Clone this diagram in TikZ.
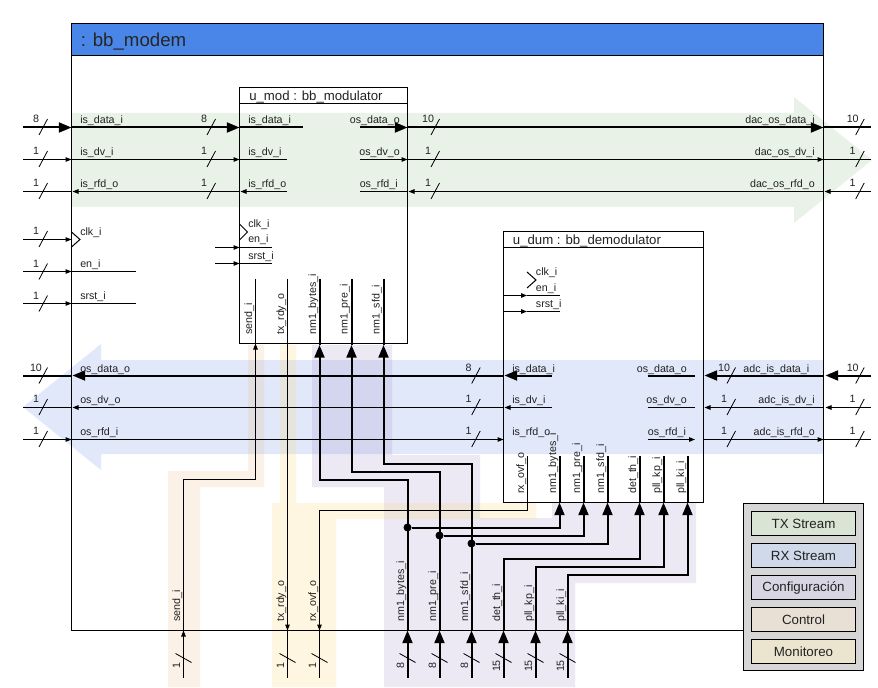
\documentclass[tikz,border=0pt]{standalone}
\usepackage{fontspec}
\setmainfont{Liberation Sans}
\usetikzlibrary{arrows.meta}
\definecolor{txc}{RGB}{145,190,130}
\definecolor{rxc}{RGB}{105,140,225}
\definecolor{cfc}{RGB}{160,145,200}
\definecolor{ctc}{RGB}{235,185,130}
\definecolor{moc}{RGB}{255,210,110}
\definecolor{txt}{RGB}{34,34,34}
\def\px{0.75pt}
\tikzset{
  band/.style={opacity=0.2},
  wire/.style={line width=0.75pt,draw=black},
  bus/.style={line width=1.5pt,draw=black},
  toA/.style={wire,-{Triangle[length=4.5pt,width=3.4pt]}},
  toB/.style={bus,-{Triangle[length=9.5pt,width=7.5pt]}},
  slashmark/.style={line width=0.6pt},
  lab/.style={inner sep=0,font=\fontsize{8}{9}\selectfont,text=txt},
  wlab/.style={lab,anchor=base west},
  elab/.style={lab,anchor=base east},
  vlab/.style={lab,rotate=90,anchor=base west},
  num/.style={lab,anchor=base},
  vnum/.style={lab,rotate=90,anchor=base},
  blockbox/.style={draw=black,line width=0.75pt,anchor=north west,inner sep=0,outer sep=0},
  legendbox/.style={draw=black,line width=0.75pt,minimum width=104*\px,minimum height=24*\px,inner sep=0,outer sep=0,text=txt,font=\fontsize{10}{12}\selectfont},
  junction/.style={circle,fill=black,inner sep=0,minimum size=6pt},
}
\begin{document}
\begin{tikzpicture}[x=0.75pt,y=-0.75pt]
\useasboundingbox (0,0) rectangle (878,688);
\fill[white] (0,0) rectangle (878,688);
% highlight bands
\fill[band,txc] (72,113) -- (794,113) -- (794,97) -- (872,160) -- (794,223) -- (794,207) -- (72,207) -- cycle;
\fill[band,rxc] (823,360) -- (101,360) -- (101,344) -- (23,407) -- (101,470) -- (101,454) -- (823,454) -- cycle;
\fill[band,cfc] (312,345) -- (392,345) -- (392,455) -- (480,455) -- (480,518) -- (552,518) -- (552,503) -- (696,503) -- (696,583) -- (575,583) -- (575,687) -- (384,687) -- (384,487) -- (312,487) -- cycle;
\fill[band,ctc] (248,345) -- (264,345) -- (264,487) -- (200,487) -- (200,687) -- (168,687) -- (168,471) -- (248,471) -- cycle;
\fill[band,moc] (280,345) -- (296,345) -- (296,503) -- (536,503) -- (536,519) -- (336,519) -- (336,687) -- (272,687) -- (272,503) -- (280,503) -- cycle;
% blocks
\fill[fill={rgb,255:red,74;green,134;blue,232}] (71.5,23.5) rectangle (823.5,55.5);
\node[blockbox,minimum width=752*\px,minimum height=607*\px] (modem) at (71.5,23.5) {};
\draw[line width=0.75pt] (71.5,55.5) -- (823.5,55.5);
\node[lab,anchor=base west,font=\fontsize{14}{16}\selectfont,text=black!85] (modemT) at (80.5,46.7) {: bb\_modem};
\node[blockbox,minimum width=168*\px,minimum height=256*\px] (umod) at (239.5,87.5) {};
\draw[line width=0.75pt] (239.5,103.5) -- (407.5,103.5);
\node[lab,anchor=base west,font=\fontsize{9.9}{12}\selectfont] (umodT) at (249,100.7) {u\_mod : bb\_modulator};
\node[blockbox,minimum width=200*\px,minimum height=271*\px] (udum) at (503.5,231.5) {};
\draw[line width=0.75pt] (503.5,247.5) -- (703.5,247.5);
\node[lab,anchor=base west,font=\fontsize{9.9}{12}\selectfont] (udumT) at (512.7,244.3) {u\_dum : bb\_demodulator};
% clock triangles
\draw[wire] (71.5,232) -- (80,239.5) -- (71.5,247);
\draw[wire] (239.5,224) -- (247.5,232) -- (239.5,240);
\draw[wire] (527,272) -- (536,280) -- (527,288);
% port coordinates
\foreach \n/\y in {a/127.5,b/159.5,c/191.5}{
  \coordinate (\n L) at (23,\y); \coordinate (\n B) at (71.5,\y);
  \coordinate (\n M) at (239.5,\y); \coordinate (\n O) at (360,\y);
  \coordinate (\n Q) at (407.5,\y); \coordinate (\n R) at (823.5,\y);
  \coordinate (\n X) at (871,\y);}
\coordinate (aI) at (303,127.5); \coordinate (bI) at (287,159.5); \coordinate (cI) at (287,191.5);
\foreach \n/\y in {d/375.5,e/407.5,f/439.5}{
  \coordinate (\n L) at (23,\y); \coordinate (\n B) at (71.5,\y);
  \coordinate (\n N) at (503.5,\y); \coordinate (\n I) at (551.5,\y);
  \coordinate (\n O) at (647.7,\y); \coordinate (\n E) at (695,\y);
  \coordinate (\n Q) at (703.5,\y); \coordinate (\n R) at (823.5,\y);
  \coordinate (\n X) at (871,\y);}
\foreach \n/\y in {g/239.5,h/271.5,i/303.5}{
  \coordinate (\n L) at (23,\y); \coordinate (\n B) at (71.5,\y); \coordinate (\n E) at (135.5,\y);}
\foreach \n/\y in {j/247.5,k/263.5}{
  \coordinate (\n S) at (215,\y); \coordinate (\n M) at (239.5,\y); \coordinate (\n E) at (271.5,\y);}
\foreach \n/\y in {l/295.5,m/311.5}{
  \coordinate (\n M) at (503.5,\y); \coordinate (\n A) at (527,\y); \coordinate (\n E) at (560,\y);}
% horizontal connectors
\draw[toB] (aL) -- (aB); \draw[toB] (aB) -- (aM); \draw[bus] (aM) -- (aI);
\draw[toB] (aO) -- (aQ); \draw[toB] (aQ) -- (aR); \draw[bus] (aR) -- (aX);
\draw[toA] (bL) -- (bB); \draw[toA] (bB) -- (bM); \draw[wire] (bM) -- (bI);
\draw[toA] (bO) -- (bQ); \draw[toA] (bQ) -- (bR); \draw[wire] (bR) -- (bX);
\draw[wire] (cL) -- (cB); \draw[toA,shorten >=0.75pt] (cM) -- (cB); \draw[toA,shorten >=0.75pt] (cI) -- (cM);
\draw[wire] (cO) -- (cQ); \draw[toA,shorten >=0.75pt] (cR) -- (cQ); \draw[toA,shorten >=0.75pt] (cX) -- (cR);
\draw[bus] (dL) -- (dB); \draw[toB,shorten >=0.75pt] (dN) -- (dB); \draw[toB,shorten >=0.75pt] (dI) -- (dN);
\draw[bus] (dO) -- (dE); \draw[toB,shorten >=0.75pt] (dR) -- (dQ); \draw[toB,shorten >=1.5pt] (dX) -- (dR);
\draw[wire] (eL) -- (eB); \draw[toA,shorten >=0.75pt] (eN) -- (eB); \draw[toA,shorten >=0.75pt] (eI) -- (eN);
\draw[wire] (eO) -- (eE); \draw[toA,shorten >=0.75pt] (eR) -- (eQ); \draw[toA,shorten >=1.5pt] (eX) -- (eR);
\draw[toA] (fL) -- (fB); \draw[toA] (fB) -- (fN);
\draw[toA] (fO) -- (fE); \draw[toA] (fQ) -- (fR); \draw[wire] (fR) -- (fX);
\foreach \n in {g,h,i}{\draw[toA] (\n L) -- (\n B);}
\foreach \n in {h,i}{\draw[wire] (\n B) -- (\n E);}
\foreach \n in {j,k}{\draw[toA] (\n S) -- (\n M); \draw[wire] (\n M) -- (\n E);}
\foreach \n in {l,m}{\draw[toA] (\n M) -- (\n A); \draw[wire] (\n A) -- (\n E);}
% vertical routes
\foreach \n/\x in {sd/183.5,tr/287.5,ro/319.5,nb/407.5,np/439.5,ns/471.5,dt/503.5,kp/535.5,ki/567.5}{
  \coordinate (\n B) at (\x,678); \coordinate (\n C) at (\x,630.5);}
\coordinate (mS) at (255.5,343.5); \coordinate (mSt) at (255.5,279);
\coordinate (mT) at (287.5,343.5); \coordinate (mTt) at (287.5,279);
\foreach \n/\x in {mB/319.5,mP/351.5,mF/383.5}{\coordinate (\n) at (\x,345); \coordinate (\n t) at (\x,279);}
\foreach \n/\x in {uR/527.5,uB/559.5,uP/583.5,uF/607.5,uD/639.5,uK/663.5,uL/687.5}{\coordinate (\n) at (\x,502.5); \coordinate (\n t) at (\x,456);}
% send
\draw[toA] (sdB) -- (sdC);
\draw[toA] (sdC) |- (255.5,479.5) -- (mS);
\draw[wire] (mS) -- (mSt);
% tx_rdy
\draw[wire] (mT) -- (mTt);
\draw[toA] (mT) -- (trC); \draw[wire] (trC) -- (trB);
% rx_ovf
\draw[wire] (uRt) -- (uR);
\draw[toA] (uR) |- (319.5,510.5) -- (roC); \draw[wire] (roC) -- (roB);
% configuration buses
\foreach \n in {nb,np,ns,dt,kp,ki}{\draw[toB] (\n B) -- (\n C);}
\draw[toB] (nbC) |- (319.5,479.5) -- (mB);
\draw[toB] (npC) |- (351.5,471.5) -- (mP);
\draw[toB] (nsC) |- (383.5,463.5) -- (mF);
\foreach \n in {mB,mP,mF}{\draw[bus] (\n) -- (\n t);}
\node[junction] (j1) at (407.5,527.5) {};
\node[junction] (j2) at (439.5,535.5) {};
\node[junction] (j3) at (471.5,543.5) {};
\draw[toB] (j1) -| (uB);
\draw[toB] (j2) -| (uP);
\draw[toB] (j3) -| (uF);
\draw[toB] (dtC) |- (639.5,558.5) -- (uD);
\draw[toB] (kpC) |- (663.5,566.5) -- (uK);
\draw[toB] (kiC) |- (687.5,574.5) -- (uL);
\foreach \n in {uB,uP,uF,uD,uK,uL}{\draw[bus] (\n) -- (\n t);}
% bus-width marks, horizontal runs
\foreach \x/\y/\t [count=\i] in {39/127/8,39/159/1,39/191/1,39/239/1,39/271.5/1,39/303.5/1,39/375.5/10,39/407/1,39/439/1,
  207/127/8,207/159/1,207/191/1,431/127/10,431/159/1,431/191/1,
  855.7/127/10,855.7/159/1,855.7/191/1,855.7/375.5/10,855.7/407/1,855.7/439/1,
  471.7/375.5/8,471.7/407/1,471.7/439/1,727/375.5/10,727/407/1,727/439/1}{
  \draw[slashmark] (\x,\y+8) -- (\x+8.5,\y-8);
  \node[num] (wh\i) at (\x-3,\y-4.2) {\t};}
% bus-width marks, vertical runs
\foreach \x/\t [count=\i] in {183.5/1,287.5/1,319.5/1,407.5/8,439.5/8,471.5/8,503.5/15,535.5/15,567.5/15}{
  \draw[slashmark] (\x-8,653.5) -- (\x+8,662.5);
  \node[vnum] (wv\i) at (\x-3.5,666) {\t};}
% horizontal labels
\foreach \t/\x/\y [count=\i] in {is\_data\_i/80/123.5,is\_dv\_i/80/155.5,is\_rfd\_o/80/187.5,clk\_i/80/235,en\_i/80/267.5,srst\_i/80/299.5,
  os\_data\_o/80/372,os\_dv\_o/80/403.5,os\_rfd\_i/80/435.5,
  is\_data\_i/248/123.5,is\_dv\_i/248/155.5,is\_rfd\_o/248/187.5,clk\_i/248/227,en\_i/248/243,srst\_i/248/259,os\_rfd\_i/359.5/187.5,
  clk\_i/535.7/275,en\_i/535.7/291,srst\_i/535.7/307,
  is\_data\_i/512/372,is\_dv\_i/512/403.5,is\_rfd\_o/512/435.5,os\_rfd\_i/647.7/435.5}{
  \node[wlab] (lw\i) at (\x,\y) {\t};}
\foreach \t/\x/\y [count=\i] in {os\_data\_o/400/123.5,os\_dv\_o/400/155.5,
  dac\_os\_data\_i/815/123.5,dac\_os\_dv\_i/815/155.5,dac\_os\_rfd\_o/815/187.5,
  os\_data\_o/687/372,os\_dv\_o/687/403.5,
  adc\_is\_data\_i/809.5/372,adc\_is\_dv\_i/815/403.5,adc\_is\_rfd\_o/815/435.5}{
  \node[elab] (le\i) at (\x,\y) {\t};}
% rotated labels
\foreach \t/\x/\y [count=\i] in {send\_i/252.2/335,tx\_rdy\_o/284/335,nm1\_bytes\_i/316/335,nm1\_pre\_i/347.5/335,nm1\_sfd\_i/379.5/335,
  rx\_ovf\_o/524/494,nm1\_bytes\_i/556.2/494,nm1\_pre\_i/580/494,nm1\_sfd\_i/604/494,det\_th\_i/636/494,pll\_kp\_i/660/494,pll\_ki\_i/684/494,
  send\_i/180/622,tx\_rdy\_o/284/622,rx\_ovf\_o/316/622,nm1\_bytes\_i/404.2/622,nm1\_pre\_i/436/622,nm1\_sfd\_i/468/622,det\_th\_i/500/622,pll\_kp\_i/532/622,pll\_ki\_i/564/622}{
  \node[vlab] (lv\i) at (\x,\y) {\t};}
% legend
\node[draw=black,line width=0.75pt,fill={rgb,255:red,214;green,214;blue,214},anchor=north west,outer sep=0,minimum width=120*\px,minimum height=167*\px,inner sep=0] (legend) at (743.5,503.5) {};
\node[legendbox,fill={rgb,255:red,217;green,228;blue,213}] (lg1) at (803.5,523.5) {TX Stream};
\node[legendbox,fill={rgb,255:red,207;green,217;blue,233}] (lg2) at (803.5,555.5) {RX Stream};
\node[legendbox,fill={rgb,255:red,217;green,214;blue,227}] (lg3) at (803.5,587.5) {Configuración};
\node[legendbox,fill={rgb,255:red,232;green,224;blue,213}] (lg4) at (803.5,619.5) {Control};
\node[legendbox,fill={rgb,255:red,235;green,229;blue,208}] (lg5) at (803.5,651.5) {Monitoreo};
\end{tikzpicture}
\end{document}
